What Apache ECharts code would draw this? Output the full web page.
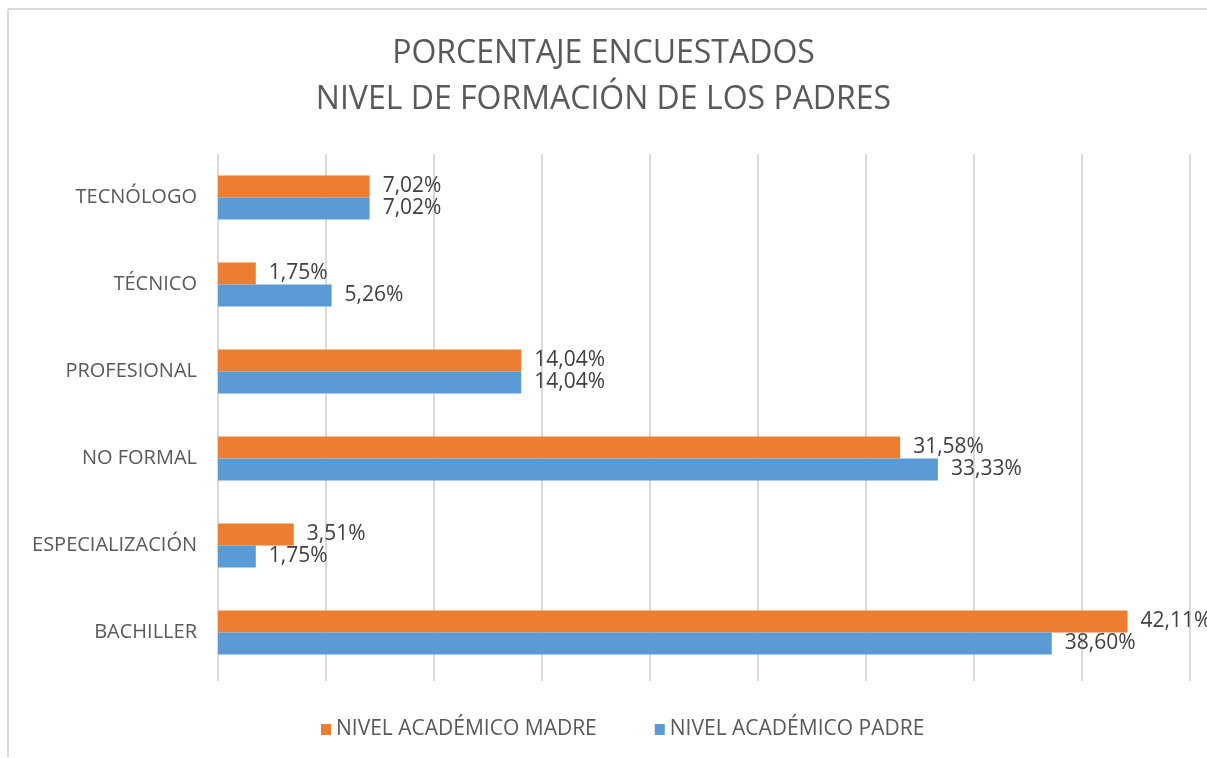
<!DOCTYPE html>
<html>
<head>
<meta charset="utf-8">
<script src="https://cdn.jsdelivr.net/npm/echarts@6/dist/echarts.min.js"></script>
<style>
  html, body { margin: 0; padding: 0; background: #fff; }
  #chart { width: 1207px; height: 758px; }
</style>
</head>
<body>
<div id="chart"></div>
<script>
// Données (de bas en haut)
const categories = ['BACHILLER', 'ESPECIALIZACIÓN', 'NO FORMAL', 'PROFESIONAL', 'TÉCNICO', 'TECNÓLOGO'];
const madre = [42.11, 3.51, 31.58, 14.04, 1.75, 7.02];
const padre = [38.60, 1.75, 33.33, 14.04, 5.26, 7.02];
const seriesNames = ['NIVEL ACADÉMICO MADRE', 'NIVEL ACADÉMICO PADRE'];

const FONT = '"Open Sans", "Noto Sans", sans-serif';
const chart = echarts.init(document.getElementById('chart'));

// Format à virgule décimale
function fmt(p) {
    return p.value.toFixed(2).replace('.', ',') + '%';
}

function barSeries(name, data, color) {
    return {
        name: name,
        type: 'bar',
        data: data,
        barWidth: 22,
        barGap: '0%',
        itemStyle: { color: color },
        label: {
            show: true,
            position: 'right',
            distance: 13,
            formatter: fmt,
            color: '#404040',
            fontSize: 21,
            fontFamily: FONT
        }
    };
}

const option = {
    backgroundColor: '#fff',
    animation: false,
    title: {
        text: 'PORCENTAJE ENCUESTADOS\nNIVEL DE FORMACIÓN DE LOS PADRES',
        left: 'center',
        top: 26,
        textStyle: {
            color: '#595959',
            fontSize: 32,
            fontWeight: 'normal',
            fontFamily: FONT,
            lineHeight: 46
        }
    },
    legend: {
        data: seriesNames,
        top: 714,
        left: 316,
        itemWidth: 10,
        itemHeight: 11,
        itemGap: 58,
        icon: 'rect',
        textStyle: { color: '#595959', fontSize: 21, fontFamily: FONT }
    },
    grid: { left: 218, top: 154, width: 972, height: 522, containLabel: false },
    xAxis: {
        type: 'value',
        min: 0,
        max: 45,
        interval: 5,
        axisLabel: { show: false },
        axisLine: { show: false },
        axisTick: { show: true, length: 5, lineStyle: { color: '#d9d9d9', width: 2 } },
        splitLine: { show: true, lineStyle: { color: '#d9d9d9', width: 2 } }
    },
    yAxis: {
        type: 'category',
        data: categories,
        axisLine: { show: false },
        axisTick: { show: false },
        axisLabel: { color: '#595959', fontSize: 20, fontFamily: FONT, margin: 21 }
    },
    graphic: [
        { type: 'line', shape: { x1: 8, y1: 9, x2: 1207, y2: 9 }, style: { stroke: '#d9d9d9', lineWidth: 2 } },
        { type: 'line', shape: { x1: 8, y1: 9, x2: 8, y2: 757 }, style: { stroke: '#d9d9d9', lineWidth: 2 } }
    ],
    series: [
        barSeries(seriesNames[0], madre, '#ed7d31'),
        barSeries(seriesNames[1], padre, '#5b9bd5')
    ]
};

chart.setOption(option);
</script>
</body>
</html>
